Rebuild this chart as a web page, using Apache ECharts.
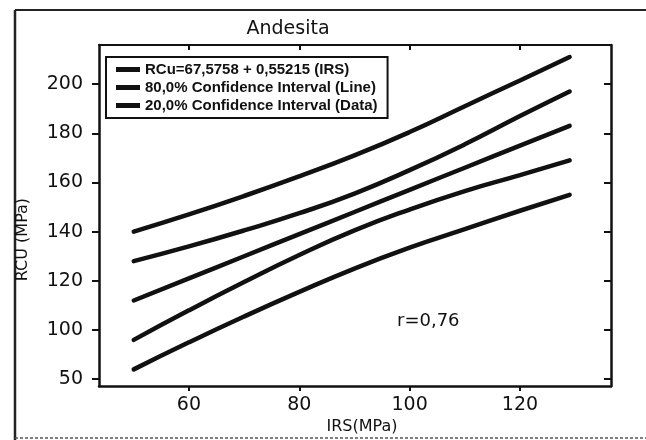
<!DOCTYPE html>
<html lang="es">
<head>
    <meta charset="UTF-8">
    <title>Andesita</title>
    <script src="https://cdn.jsdelivr.net/npm/echarts@6/dist/echarts.min.js"></script>
    <style>
        html, body { margin: 0; padding: 0; background: #fff; }
        #chart { width: 646px; height: 440px; }
    </style>
</head>
<body>
<div id="chart"></div>
<script>
    // IRS (MPa) sample points along the curves
    var irs = [50, 60, 70, 80, 90, 100, 110, 120, 129];
    // regression line
    var fitLine = [112, 121, 130, 139, 148, 157, 166, 175, 183];
    // 80% confidence interval (line), upper / lower
    var lineUpper = [128, 134, 140.5, 147.5, 155.5, 165, 175.5, 187, 197];
    var lineLower = [96, 108, 119.5, 130.5, 140.5, 149, 156.5, 163, 169];
    // 20% confidence interval (data), upper / lower
    var dataUpper = [140, 147, 154.5, 162.5, 171, 180.5, 191, 201.5, 211];
    var dataLower = [84, 95, 105.5, 115.5, 125, 133.5, 141, 148.5, 155];

    var xTicks = [60, 80, 100, 120];
    var yTicks = [80, 100, 120, 140, 160, 180, 200];
    var yTickLabels = ['50', '100', '120', '140', '160', '180', '200'];

    var names = [
        'RCu=67,5758 + 0,55215 (IRS)',
        '80,0% Confidence Interval (Line)',
        '20,0% Confidence Interval (Data)'
    ];

    function pairs(ys) {
        var out = [];
        for (var i = 0; i < irs.length; i++) {
            out.push([irs[i], ys[i]]);
        }
        return out;
    }

    var font = 'Liberation Sans, Arial, sans-serif';
    var wide = 'DejaVu Sans, sans-serif';
    var xMin = 43.7, xMax = 136.5, yMin = 77.2, yMax = 215.9;

    function lineSeries(name, ys) {
        return {
            name: name,
            type: 'line',
            data: pairs(ys),
            smooth: true,
            showSymbol: false,
            symbol: 'none',
            lineStyle: { color: '#111', width: 4.5, cap: 'round' },
            itemStyle: { color: '#111' },
            silent: true
        };
    }

    var chart = echarts.init(document.getElementById('chart'));
    chart.setOption({
        animation: false,
        backgroundColor: '#fff',
        title: {
            text: 'Andesita',
            left: 283,
            top: 15,
            textAlign: 'center',
            textStyle: { fontFamily: wide, fontSize: 19, fontWeight: 'normal', color: '#111' }
        },
        legend: {
            data: names,
            orient: 'vertical',
            left: 106,
            top: 57,
            icon: 'rect',
            itemWidth: 24,
            itemHeight: 5,
            itemGap: 3,
            padding: [5, 10, 5, 10],
            borderColor: '#111',
            borderWidth: 2,
            selectedMode: false,
            textStyle: { fontFamily: font, fontSize: 15, fontWeight: 'bold', color: '#111' }
        },
        grid: { left: 99, right: 35, top: 45, bottom: 47 },
        xAxis: [{
            type: 'value',
            min: xMin,
            max: xMax,
            name: 'IRS(MPa)',
            nameLocation: 'middle',
            nameGap: 31,
            nameTextStyle: { fontFamily: wide, fontSize: 16, color: '#111', padding: [0, 0, 0, 14] },
            axisLine: { lineStyle: { color: '#111', width: 2.5 } },
            axisTick: { customValues: xTicks, length: 5, lineStyle: { color: '#111', width: 2 } },
            axisLabel: { customValues: xTicks, margin: 9, fontFamily: wide, fontSize: 19, color: '#111' },
            splitLine: { show: false }
        }, {
            type: 'value',
            position: 'top',
            min: xMin,
            max: xMax,
            axisLine: { show: true, lineStyle: { color: '#111', width: 2 } },
            axisTick: { customValues: xTicks, inside: true, length: 5, lineStyle: { color: '#111', width: 2 } },
            axisLabel: { show: false },
            splitLine: { show: false }
        }],
        yAxis: [{
            type: 'value',
            min: yMin,
            max: yMax,
            name: 'RCU (MPa)',
            nameLocation: 'middle',
            nameGap: 68,
            nameTextStyle: { fontFamily: wide, fontSize: 16, color: '#111', padding: [0, 48, 0, 0] },
            axisLine: { show: true, lineStyle: { color: '#111', width: 2.5 } },
            axisTick: { customValues: yTicks, length: 7, lineStyle: { color: '#111', width: 2 } },
            axisLabel: {
                customValues: yTicks,
                margin: 16,
                fontFamily: wide,
                fontSize: 19,
                color: '#111',
                formatter: function (v) {
                    var i = yTicks.indexOf(v);
                    return i >= 0 ? yTickLabels[i] : '';
                }
            },
            splitLine: { show: false }
        }, {
            type: 'value',
            position: 'right',
            min: yMin,
            max: yMax,
            axisLine: { show: true, lineStyle: { color: '#111', width: 2.5 } },
            axisTick: { customValues: yTicks, inside: true, length: 7, lineStyle: { color: '#111', width: 2 } },
            axisLabel: { show: false },
            splitLine: { show: false }
        }],
        series: [
            lineSeries(names[2], dataUpper),
            lineSeries(names[1], lineUpper),
            lineSeries(names[0], fitLine),
            lineSeries(names[1], lineLower),
            lineSeries(names[2], dataLower)
        ],
        graphic: [
            { type: 'line', shape: { x1: 15, y1: 10, x2: 646, y2: 10 }, style: { stroke: '#222', lineWidth: 2 }, silent: true },
            { type: 'line', shape: { x1: 15, y1: 10, x2: 15, y2: 440 }, style: { stroke: '#222', lineWidth: 2.5 }, silent: true },
            { type: 'line', shape: { x1: 15, y1: 438, x2: 646, y2: 438 }, style: { stroke: '#555', lineWidth: 1.5, lineDash: [3, 2] }, silent: true },
            {
                type: 'text',
                left: 397,
                top: 312,
                style: { text: 'r=0,76', font: '18px ' + wide, fill: '#111' },
                silent: true
            }
        ]
    });
</script>
</body>
</html>
